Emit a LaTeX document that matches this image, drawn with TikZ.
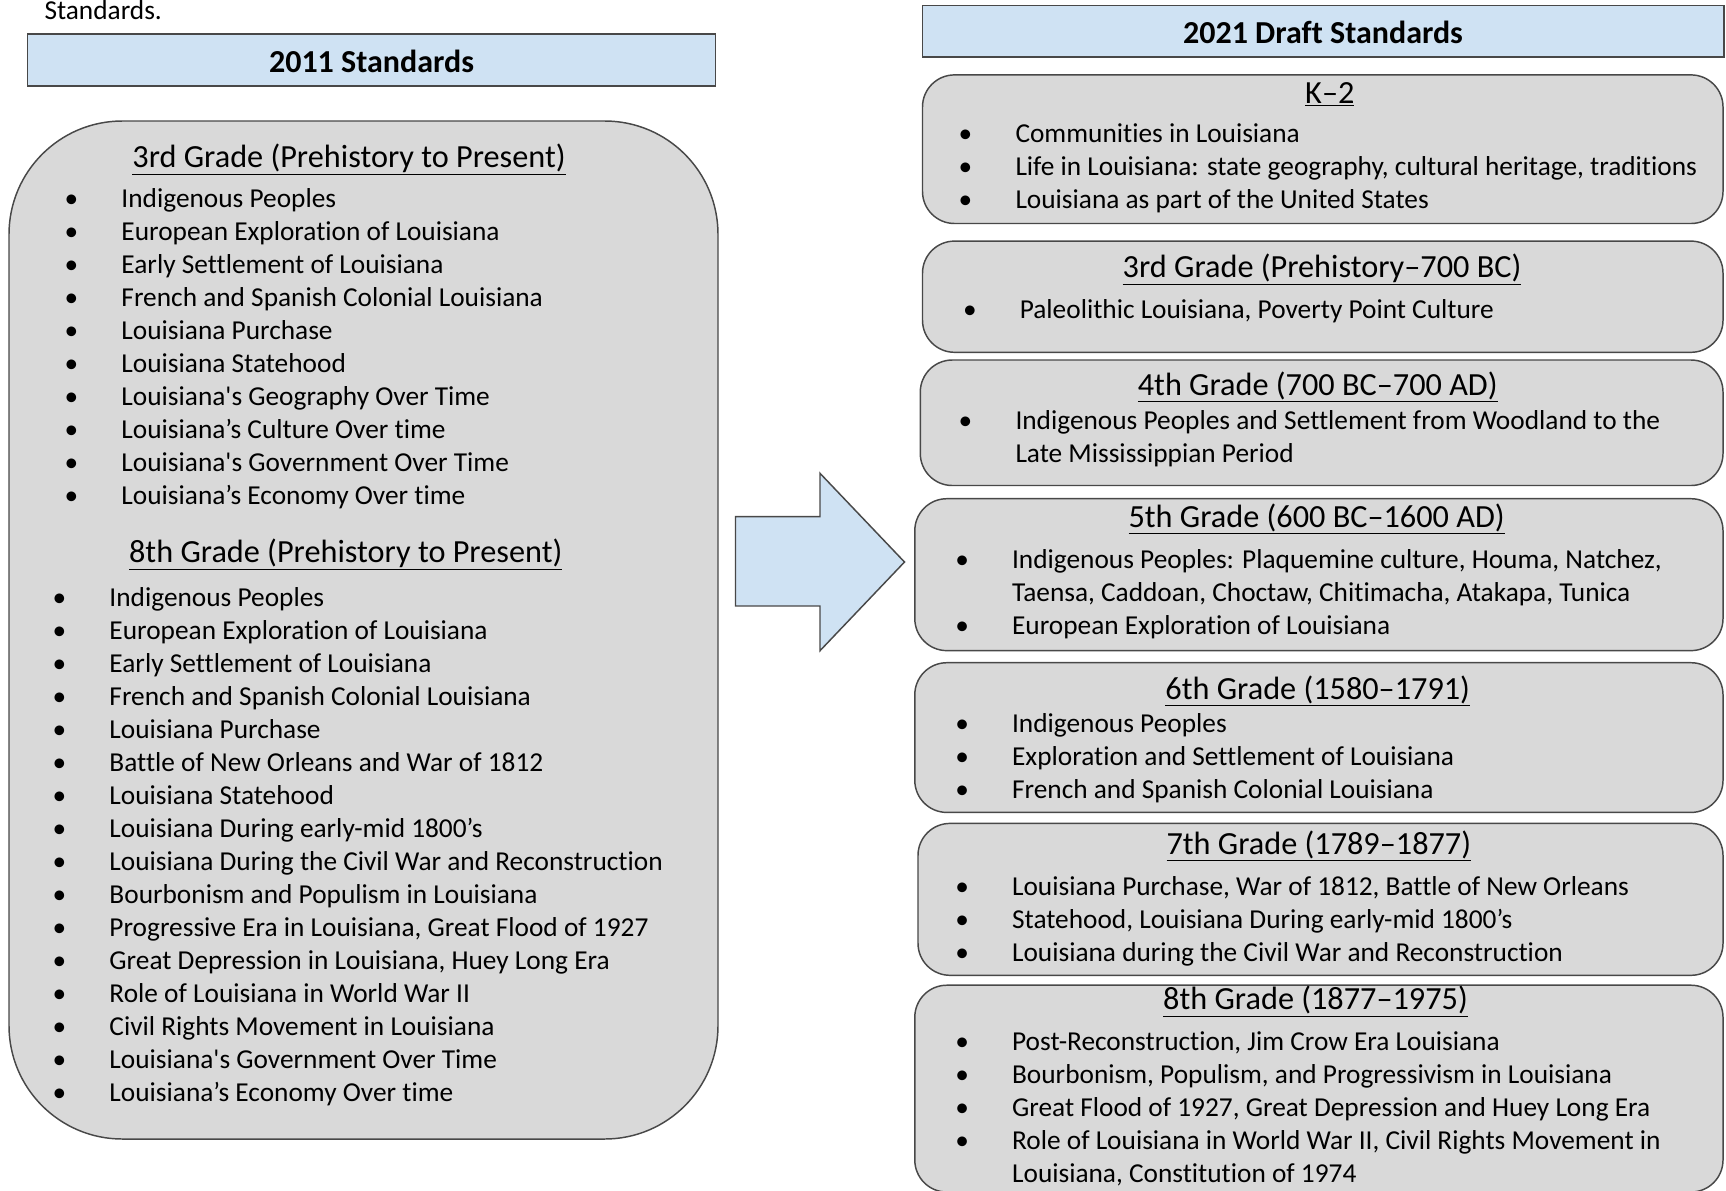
\documentclass[tikz,border=0pt]{standalone}
\usepackage{fontspec}
\setmainfont{Carlito}[Ligatures={TeX,NoCommon}]
\usepackage{tikz}
\definecolor{panelgray}{RGB}{217,217,217}
\definecolor{bannerblue}{RGB}{207,226,243}
\definecolor{edgegray}{RGB}{72,72,72}
\tikzset{every picture/.style={line width=0.75pt},
  panel/.style={draw=edgegray, fill=panelgray, line width=1.1pt},
  banner/.style={draw=edgegray, fill=bannerblue, line width=1.1pt},
  bannertext/.style={inner sep=0pt, yshift=-0.8pt, font=\fontsize{24}{29}\selectfont\bfseries},
  heading/.style={anchor=base, inner sep=0pt, yshift=-0.8pt, font=\fontsize{24.2}{29}\selectfont},
  entry/.style={anchor=base west, inner sep=0pt, yshift=-0.8pt, font=\fontsize{20.5}{24.75}\selectfont},
  bulleted/.style={entry, execute at begin node={\llap{\textbullet\hspace{32.4pt}}}}
}

\begin{document}
\begin{tikzpicture}[x=0.75pt,y=0.75pt,yscale=-1,xscale=1]
\useasboundingbox (0,0) rectangle (1726,1190);

% Text Node
\node (intro) [entry] at (44,18) {Standards.};

%Shape: Rectangle [header 2011]
\draw [banner] (27.5,34) rectangle (715.5,86);
\node (oldtitle) [bannertext] at (371.5,60) {2011 Standards};
%Shape: Rounded Rectangle [2011 panel]
\draw [panel, rounded corners=85] (9,121) rectangle (718,1139);

% Text Node
\node (oldg3) [heading] at (349,166) {\underline{3rd Grade (Prehistory to Present)}};
\node (o3a) [bulleted] at (121,206) {Indigenous Peoples};
\node (o3b) [bulleted] at (121,239) {European Exploration of Louisiana};
\node (o3c) [bulleted] at (121,272) {Early Settlement of Louisiana};
\node (o3d) [bulleted] at (121,305) {French and Spanish Colonial Louisiana};
\node (o3e) [bulleted] at (121,338) {Louisiana Purchase};
\node (o3f) [bulleted] at (121,371) {Louisiana Statehood};
\node (o3g) [bulleted] at (121,404) {Louisiana\textquotesingle s Geography Over Time};
\node (o3h) [bulleted] at (121,437) {Louisiana’s Culture Over time};
\node (o3i) [bulleted] at (121,470) {Louisiana\textquotesingle s Government Over Time};
\node (o3j) [bulleted] at (121,503) {Louisiana’s Economy Over time};

% Text Node
\node (oldg8) [heading] at (345.7,561.5) {\underline{8th Grade (Prehistory to Present)}};
\node (o8a) [bulleted] at (109,605) {Indigenous Peoples};
\node (o8b) [bulleted] at (109,638) {European Exploration of Louisiana};
\node (o8c) [bulleted] at (109,671) {Early Settlement of Louisiana};
\node (o8d) [bulleted] at (109,704) {French and Spanish Colonial Louisiana};
\node (o8e) [bulleted] at (109,737) {Louisiana Purchase};
\node (o8f) [bulleted] at (109,770) {Battle of New Orleans and War of 1812};
\node (o8g) [bulleted] at (109,803) {Louisiana Statehood};
\node (o8h) [bulleted] at (109,836) {Louisiana During early-mid 1800’s};
\node (o8i) [bulleted] at (109,869) {Louisiana During the Civil War and Reconstruction};
\node (o8j) [bulleted] at (109,902) {Bourbonism and Populism in Louisiana};
\node (o8k) [bulleted] at (109,935) {Progressive Era in Louisiana, Great Flood of 1927};
\node (o8l) [bulleted] at (109,968) {Great Depression in Louisiana, Huey Long Era};
\node (o8m) [bulleted] at (109,1001) {Role of Louisiana in World War II};
\node (o8n) [bulleted] at (109,1034) {Civil Rights Movement in Louisiana};
\node (o8o) [bulleted] at (109,1067) {Louisiana\textquotesingle s Government Over Time};
\node (o8p) [bulleted] at (109,1100) {Louisiana’s Economy Over time};

%Shape: Right Arrow
\draw [banner] (735.5,516.7) -- (820,516.7) -- (820,473.3) -- (904.5,562) -- (820,650.7) -- (820,606) -- (735.5,606) -- cycle;

%Shape: Rectangle [header 2021]
\draw [banner] (922.5,5.5) rectangle (1724,57.2);
\node (newtitle) [bannertext] at (1323,31.4) {2021 Draft Standards};

%Shape: Rounded Rectangle [K-2]
\draw [panel, rounded corners=24] (922.5,74.9) rectangle (1723,223.5);
\node (newk2) [heading] at (1329.8,102.5) {\underline{K--2}};
\node (nka) [bulleted] at (1015,141) {Communities in Louisiana};
\node (nkb) [bulleted] at (1015,174) {Life in Louisiana: state geography, cultural heritage, traditions};
\node (nkc) [bulleted] at (1015,207) {Louisiana as part of the United States};

%Shape: Rounded Rectangle [grade 3]
\draw [panel, rounded corners=24] (922.5,241.1) rectangle (1723,352.3);
\node (newg3) [heading] at (1322,276.4) {\underline{3rd Grade (Prehistory--700 BC)}};
\node (n3a) [bulleted] at (1019.3,317) {Paleolithic Louisiana, Poverty Point Culture};

%Shape: Rounded Rectangle [grade 4]
\draw [panel, rounded corners=24] (920.3,360) rectangle (1723,485.5);
\node (newg4) [heading] at (1317.7,394.2) {\underline{4th Grade (700 BC--700 AD)}};
\node (n4a) [bulleted] at (1015,428.5) {Indigenous Peoples and Settlement from Woodland to the};
\node (n4b) [entry] at (1015,461.5) {Late Mississippian Period};

%Shape: Rounded Rectangle [grade 5]
\draw [panel, rounded corners=24] (914.8,498.7) rectangle (1723,650.6);
\node (newg5) [heading] at (1316.6,526.3) {\underline{5th Grade (600 BC--1600 AD)}};
\node (n5a) [bulleted] at (1011.6,567) {Indigenous Peoples: Plaquemine culture, Houma, Natchez,};
\node (n5b) [entry] at (1011.6,600) {Taensa, Caddoan, Choctaw, Chitimacha, Atakapa, Tunica};
\node (n5c) [bulleted] at (1011.6,633) {European Exploration of Louisiana};

%Shape: Rounded Rectangle [grade 6]
\draw [panel, rounded corners=24] (914.8,662.7) rectangle (1723,812.4);
\node (newg6) [heading] at (1317.7,698) {\underline{6th Grade (1580--1791)}};
\node (n6a) [bulleted] at (1011.6,731) {Indigenous Peoples};
\node (n6b) [bulleted] at (1011.6,764) {Exploration and Settlement of Louisiana};
\node (n6c) [bulleted] at (1011.6,797) {French and Spanish Colonial Louisiana};

%Shape: Rounded Rectangle [grade 7]
\draw [panel, rounded corners=24] (918,823.4) rectangle (1723,975.3);
\node (newg7) [heading] at (1318.8,853.2) {\underline{7th Grade (1789--1877)}};
\node (n7a) [bulleted] at (1011.6,894) {Louisiana Purchase, War of 1812, Battle of New Orleans};
\node (n7b) [bulleted] at (1011.6,927) {Statehood, Louisiana During early-mid 1800’s};
\node (n7c) [bulleted] at (1011.6,960) {Louisiana during the Civil War and Reconstruction};

%Shape: Rounded Rectangle [grade 8]
\draw [panel, rounded corners=24] (914.8,985.2) rectangle (1723,1192);
\node (newg8) [heading] at (1315.5,1008.4) {\underline{8th Grade (1877--1975)}};
\node (n8a) [bulleted] at (1011.6,1049) {Post-Reconstruction, Jim Crow Era Louisiana};
\node (n8b) [bulleted] at (1011.6,1082) {Bourbonism, Populism, and Progressivism in Louisiana};
\node (n8c) [bulleted] at (1011.6,1115) {Great Flood of 1927, Great Depression and Huey Long Era};
\node (n8d) [bulleted] at (1011.6,1148) {Role of Louisiana in World War II, Civil Rights Movement in};
\node (n8e) [entry] at (1011.6,1181) {Louisiana, Constitution of 1974};

\end{tikzpicture}
\end{document}
